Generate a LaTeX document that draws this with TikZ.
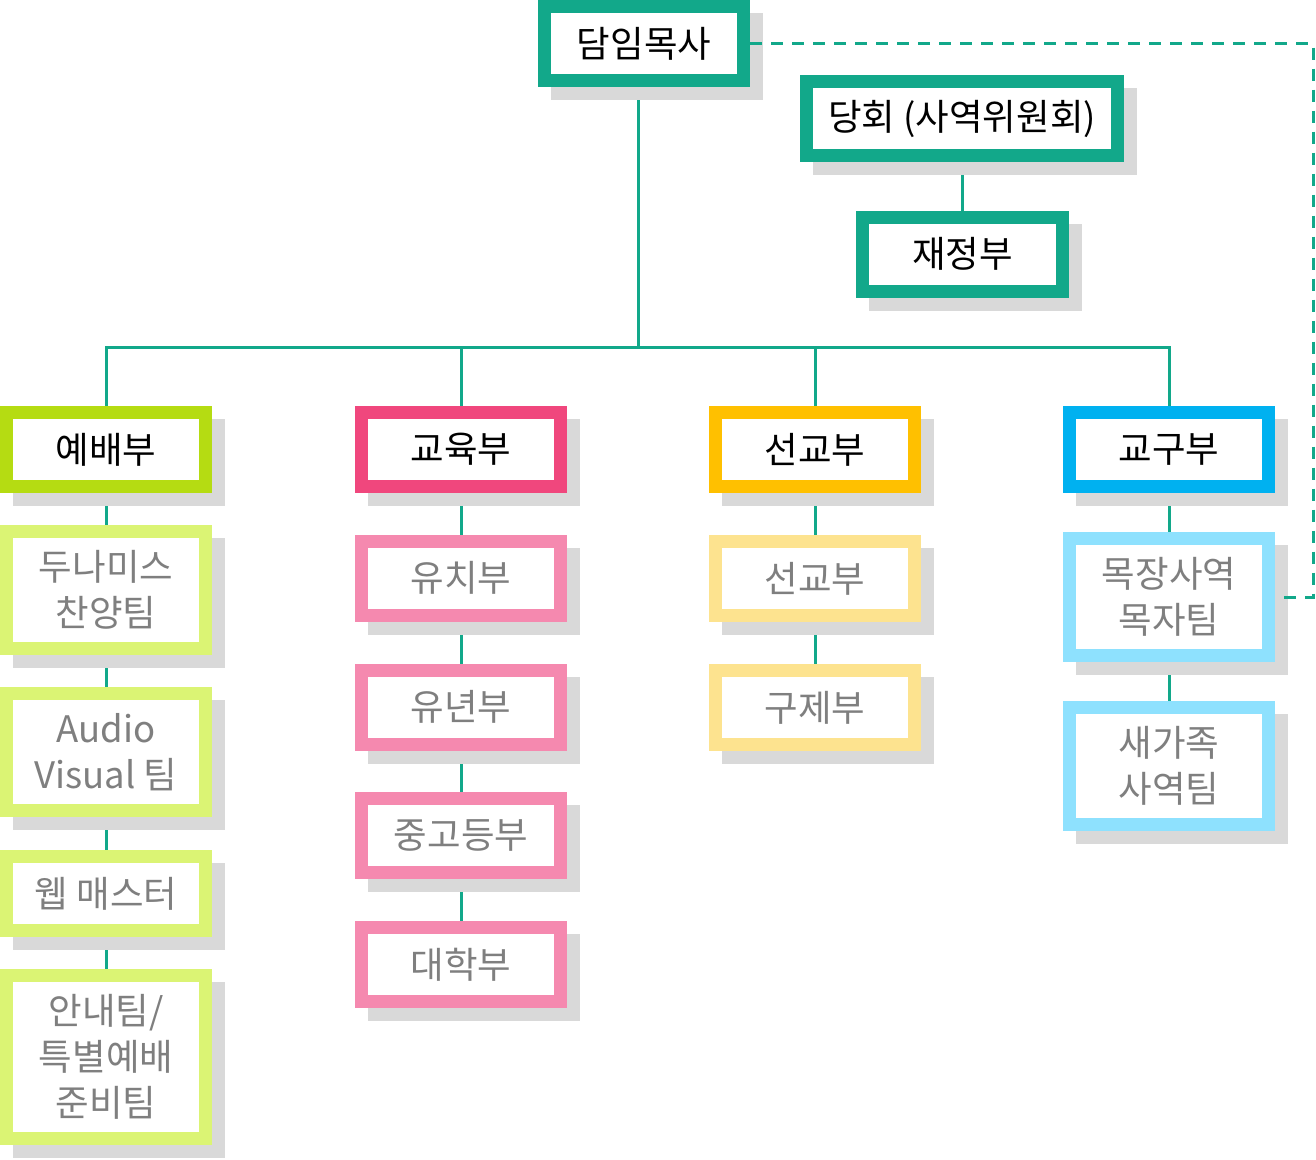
\documentclass[tikz,border=0pt]{standalone}
\usepackage{fontspec}
\setmainfont{Noto Sans CJK KR}
\usetikzlibrary{calc,backgrounds}
\pgfdeclarelayer{conn}
\pgfdeclarelayer{shad}
\pgfdeclarelayer{dashl}
\pgfsetlayers{conn,shad,dashl,main}
\definecolor{teal1}{HTML}{12A88A}
\definecolor{lime1}{HTML}{B5DC12}
\definecolor{lime2}{HTML}{DBF474}
\definecolor{pink1}{HTML}{F0477D}
\definecolor{pink2}{HTML}{F589AF}
\definecolor{yel1}{HTML}{FFC000}
\definecolor{yel2}{HTML}{FDE38F}
\definecolor{blue1}{HTML}{00B1F0}
\definecolor{blue2}{HTML}{8EE1FE}
\definecolor{shadowgray}{HTML}{D9D9D9}
\definecolor{txtgray}{HTML}{7F7F7F}
\newcommand\shadowof[1]{\fill[shadowgray] ([shift={(13pt,-13pt)}]#1.north west) rectangle ([shift={(13pt,-13pt)}]#1.south east);}
\tikzset{
  orgbox/.style={draw=#1, line width=13pt, fill=white, inner sep=0pt, align=center,
    font=\fontsize{36.5}{46}\selectfont, minimum width=199pt, minimum height=74pt},
  mainbox/.style={orgbox=#1, text=black},
  subbox/.style={orgbox=#1, text=txtgray},
  tall/.style={minimum height=117pt},
  taller/.style={minimum height=163pt},
  conn/.style={draw=teal1, line width=3pt},
  dashconn/.style={draw=teal1, line width=3pt, dash pattern=on 12pt off 9pt}
}
\begin{document}
\begin{tikzpicture}[x=1pt,y=-1pt]
\useasboundingbox (0,0) rectangle (1316,1159);
% top
\node[mainbox=teal1] (dam) at (644,43.5) {담임목사};
\node[mainbox=teal1, minimum width=311pt] (dang) at (962,118.5) {당회 (사역위원회)};
\node[mainbox=teal1, minimum width=200pt] (jae) at (962.5,254) {재정부};
% column 1
\node[mainbox=lime1] (yeb) at (106,449.5) {예배부};
\node[subbox=lime2, tall] (duna) at (106,590) {두나미스\\찬양팀};
\node[subbox=lime2, tall] (av) at (106,752) {Audio\\Visual 팀};
\node[subbox=lime2] (web) at (106,893.5) {웹 매스터};
\node[subbox=lime2, taller] (annae) at (106,1057) {안내팀/\\특별예배\\준비팀};
% column 2
\node[mainbox=pink1] (gyoyuk) at (461,449.5) {교육부};
\node[subbox=pink2] (yuchi) at (461,578) {유치부};
\node[subbox=pink2] (yunyeon) at (461,707) {유년부};
\node[subbox=pink2] (jung) at (461,835.5) {중고등부};
\node[subbox=pink2] (dae) at (461,964.5) {대학부};
% column 3
\node[mainbox=yel1] (seon) at (815,449.5) {선교부};
\node[subbox=yel2] (seon2) at (815,578.5) {선교부};
\node[subbox=yel2] (guje) at (815,707.5) {구제부};
% column 4
\node[mainbox=blue1] (gyogu) at (1169,449.5) {교구부};
\node[subbox=blue2, tall] (mok) at (1169,597) {목장사역\\목자팀};
\node[subbox=blue2, tall] (saega) at (1169,766) {새가족\\사역팀};
\coordinate (bus) at (638,347);
\coordinate (dr) at (1313,0);
\begin{pgfonlayer}{shad}
\foreach \n in {dam,dang,jae,yeb,duna,av,web,annae,gyoyuk,yuchi,yunyeon,jung,dae,seon,seon2,guje,gyogu,mok,saega}{\shadowof{\n}}
\end{pgfonlayer}
\begin{pgfonlayer}{dashl}
\draw[dashconn] (dam.east) -- (dam.east -| dr) |- (mok.east);
\end{pgfonlayer}
\begin{pgfonlayer}{conn}
\draw[conn] (bus |- dam.south) -- (bus);
\draw[conn] (yeb.north) -- (yeb.north |- bus) -- (gyogu.north |- bus) -- (gyogu.north);
\draw[conn] (gyoyuk.north) -- (gyoyuk.north |- bus);
\draw[conn] (seon.north) -- (seon.north |- bus);
\draw[conn] (dang.south) -- (jae.north -| dang.south);
\draw[conn] (yeb.south) -- (duna.north);
\draw[conn] (duna.south) -- (av.north);
\draw[conn] (av.south) -- (web.north);
\draw[conn] (web.south) -- (annae.north);
\draw[conn] (gyoyuk.south) -- (yuchi.north);
\draw[conn] (yuchi.south) -- (yunyeon.north);
\draw[conn] (yunyeon.south) -- (jung.north);
\draw[conn] (jung.south) -- (dae.north);
\draw[conn] (seon.south) -- (seon2.north);
\draw[conn] (seon2.south) -- (guje.north);
\draw[conn] (gyogu.south) -- (mok.north);
\draw[conn] (mok.south) -- (saega.north);
\end{pgfonlayer}
\end{tikzpicture}
\end{document}
